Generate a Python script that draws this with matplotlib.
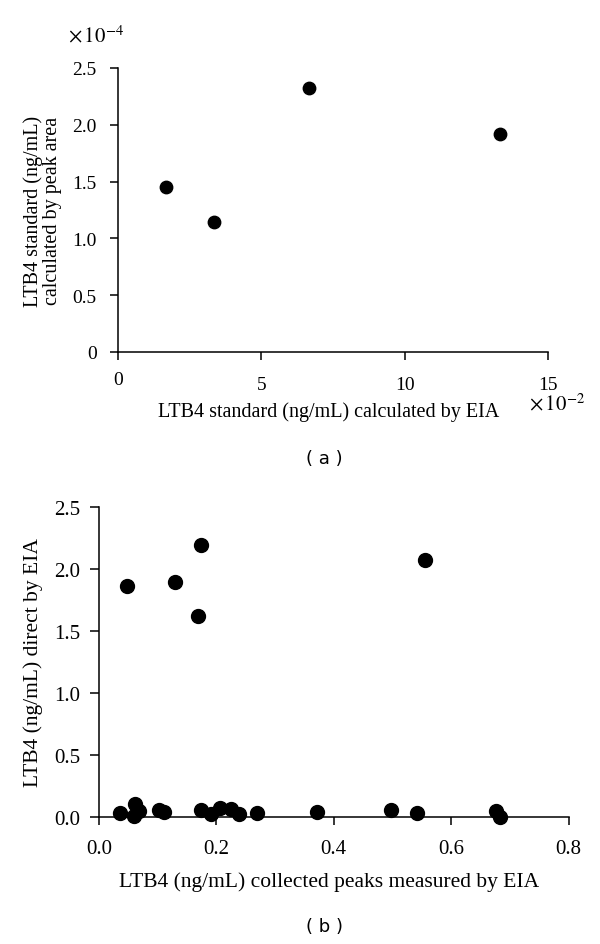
import matplotlib
matplotlib.use("Agg")
import matplotlib.pyplot as plt
import matplotlib.transforms as mtransforms

# panel (a): LTB4 standards, x in units of 1e-2, y in units of 1e-4
std_eia = [1.67, 3.33, 6.67, 13.33]
std_peak_area = [1.45, 1.14, 2.32, 1.92]

# panel (b): collected peaks vs direct EIA
peaks_eia = [0.048, 0.130, 0.168, 0.174, 0.555,
             0.035, 0.062, 0.059, 0.069, 0.102, 0.110, 0.174, 0.191,
             0.206, 0.225, 0.238, 0.269, 0.372, 0.497, 0.542, 0.676, 0.683]
direct_eia = [1.86, 1.89, 1.62, 2.19, 2.07,
              0.035, 0.107, 0.013, 0.054, 0.056, 0.046, 0.056, 0.027,
              0.078, 0.070, 0.024, 0.032, 0.046, 0.059, 0.032, 0.048, 0.0]

a_xticks = [0, 5, 10, 15]
a_yticks = [0, 0.5, 1.0, 1.5, 2.0, 2.5]
b_xticks = [0.0, 0.2, 0.4, 0.6, 0.8]
b_yticks = [0.0, 0.5, 1.0, 1.5, 2.0, 2.5]

plt.rcParams['font.family'] = 'Liberation Serif'
plt.rcParams['mathtext.fontset'] = 'stix'


def style(ax):
    ax.spines['top'].set_visible(False)
    ax.spines['right'].set_visible(False)
    for s in ['left', 'bottom']:
        ax.spines[s].set_linewidth(1.1)
    ax.tick_params(direction='out', width=1.1)


fig = plt.figure(figsize=(6, 9.45), dpi=100)

# ---- panel (a)
ax1 = fig.add_axes([0.197, 0.6265, 0.716, 0.3005])
ax1.scatter(std_eia, std_peak_area, s=80, color='black', zorder=3, clip_on=False)
ax1.set_xlim(0, 15)
ax1.set_ylim(0, 2.5)
ax1.set_xticks(a_xticks)
ax1.set_xticklabels([str(v) for v in a_xticks])
ax1.set_yticks(a_yticks)
ax1.set_yticklabels(['0'] + ['%.1f' % v for v in a_yticks[1:]])
style(ax1)
ax1.tick_params(axis='x', length=6, pad=11, labelsize=14)
ax1.tick_params(axis='y', length=6, pad=9.5, labelsize=14)
# the "0" under the x axis sits a little higher than the others
lbl0 = ax1.get_xticklabels()[0]
lbl0.set_transform(lbl0.get_transform() +
                   mtransforms.ScaledTranslation(0, 5 / 100, fig.dpi_scale_trans))
ax1.set_xlabel('LTB4 standard (ng/mL) calculated by EIA', fontsize=14.5)
ax1.xaxis.label.set_va('center')
ax1.xaxis.set_label_coords(0.49, -0.208)
ax1.set_ylabel('LTB4 standard (ng/mL)\ncalculated by peak area', fontsize=14.5,
               linespacing=1.05)
ax1.yaxis.label.set_va('center')
ax1.yaxis.set_label_coords(-0.176, 0.5)
ax1.text(-0.116, 1.113, r'$\times\,10^{-4}$', transform=ax1.transAxes,
         fontsize=15, ha='left', va='center')
ax1.text(0.956, -0.183, r'$\times\,10^{-2}$', transform=ax1.transAxes,
         fontsize=15, ha='left', va='center')
fig.text(0.54, 0.514, '( a )', family='DejaVu Sans', fontsize=13,
         ha='center', va='center')

# ---- panel (b)
ax2 = fig.add_axes([0.165, 0.134, 0.7825, 0.3288])
ax2.scatter(peaks_eia, direct_eia, s=100, color='black', zorder=3, clip_on=False)
ax2.set_xlim(0, 0.8)
ax2.set_ylim(0, 2.5)
ax2.set_xticks(b_xticks)
ax2.set_xticklabels(['%.1f' % v for v in b_xticks])
ax2.set_yticks(b_yticks)
ax2.set_yticklabels(['%.1f' % v for v in b_yticks])
style(ax2)
ax2.tick_params(axis='x', length=5.5, pad=10, labelsize=15)
ax2.tick_params(axis='y', length=6.5, pad=7, labelsize=15)
ax2.set_xlabel('LTB4 (ng/mL) collected peaks measured by EIA', fontsize=15.5)
ax2.xaxis.label.set_va('center')
ax2.xaxis.set_label_coords(0.489, -0.205)
ax2.set_ylabel('LTB4 (ng/mL) direct by EIA', fontsize=15.5)
ax2.yaxis.label.set_va('center')
ax2.yaxis.set_label_coords(-0.140, 0.5)
fig.text(0.54, 0.019, '( b )', family='DejaVu Sans', fontsize=13,
         ha='center', va='center')

fig.savefig('out.png', dpi=100)
